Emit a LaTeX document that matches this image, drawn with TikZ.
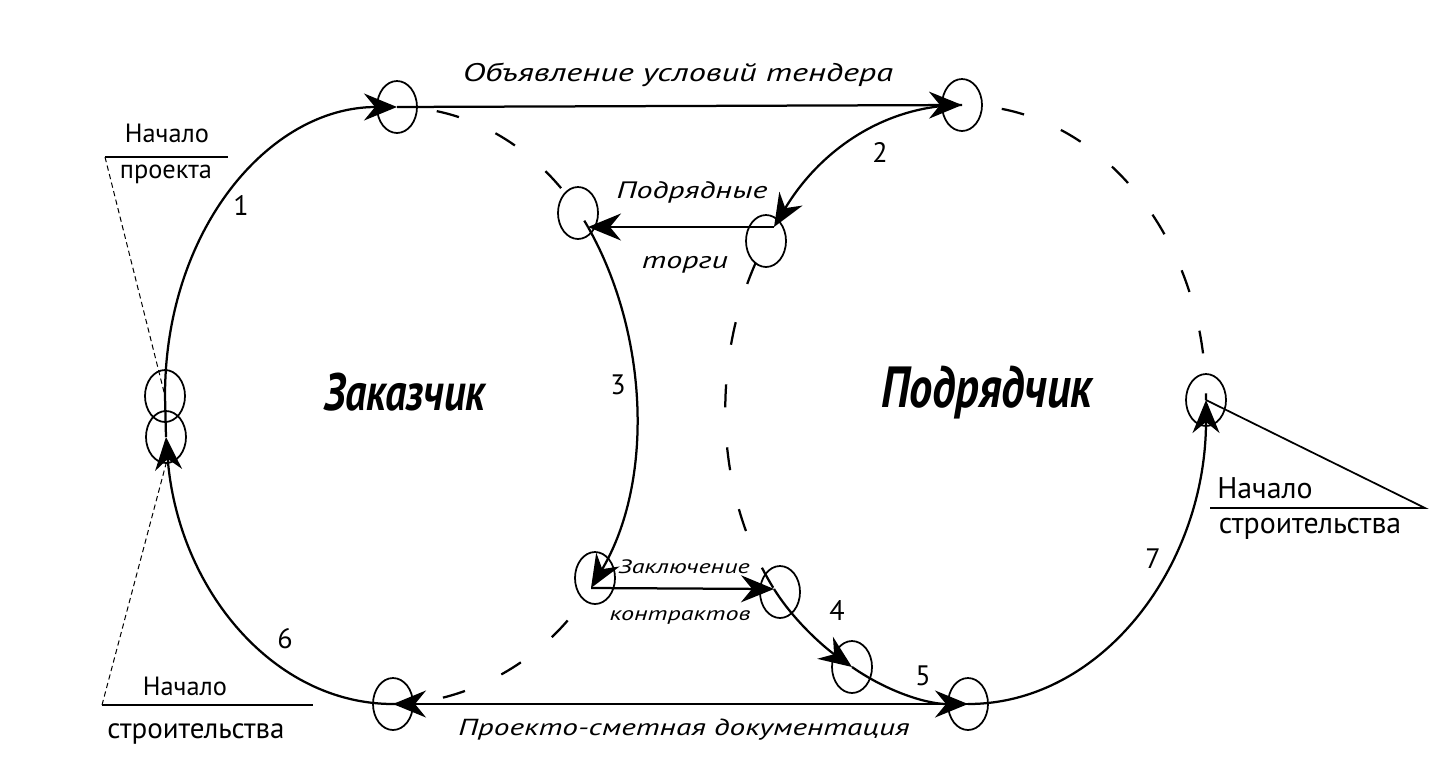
\documentclass[tikz,border=0pt]{standalone}
\usepackage{fontspec}
\setmainfont{PT Sans}
\newfontfamily\widefont{PT Sans}[FakeStretch=1.35]
\newfontfamily\narrowfont{PT Sans}[FakeStretch=0.8]
\usetikzlibrary{shapes.geometric,arrows.meta}
\begin{document}
\begin{tikzpicture}[x=0.2mm,y=-0.2mm,>={Stealth[length=6.6mm,width=5.4mm,inset=2.2mm]},
        ring/.style={draw, ellipse, minimum width=8mm, minimum height=10.4mm, inner sep=0pt, line width=0.35mm},
        flow/.style={->, line width=0.45mm},
        bound/.style={line width=0.45mm, dash pattern=on 4.6mm off 8mm, dash phase=4.6mm},
        leader/.style={line width=0.2mm, densely dashed},
        rule/.style={line width=0.35mm},
        lbl/.style={font=\widefont\itshape\fontsize{13.5}{15}\selectfont, inner sep=0pt, anchor=base},
        lblsmall/.style={font=\widefont\itshape\fontsize{11}{13}\selectfont, inner sep=0pt, anchor=base},
        party/.style={font=\narrowfont\bfseries\itshape\fontsize{30}{32}\selectfont, inner sep=0pt, anchor=base},
        note/.style={font=\fontsize{15}{17}\selectfont, inner sep=0pt, anchor=base},
        num/.style={font=\fontsize{16}{18}\selectfont, inner sep=0pt, anchor=base}]
        \useasboundingbox (0,0) rectangle (1434,780);

        % event circles
        \node (a) [ring] at (397,107) {};
        \node (b) [ring] at (962,105) {};
        \node (c) [ring] at (578,213) {};
        \node (d) [ring] at (766,241) {};
        \node (e1) [ring] at (165,396) {};
        \node (e2) [ring] at (166,437) {};
        \node (f) [ring] at (595,578) {};
        \node (g) [ring] at (780,592) {};
        \node (h) [ring] at (852,667) {};
        \node (i) [ring] at (968,704) {};
        \node (j) [ring] at (393,704) {};
        \node (k) [ring] at (1206,400) {};
        \coordinate (cj) at ([shift={(10,14)}]c.center);
        \coordinate (dj) at ([shift={(8,-14)}]d.center);
        \coordinate (fj) at ([shift={(-4,10)}]f.center);
        \coordinate (gj) at ([shift={(-6,-3)}]g.center);

        % flows
        \draw[flow] (e2.center) -- (e1.center) .. controls +(0,-166) and +(-128,0) .. (a.center);
        \draw[flow] (a.center) -- (b.center);
        \draw[flow] (b.center) .. controls +(-77,0) and +(46,-77) .. (dj);
        \draw[flow] (dj) -- (cj);
        \draw[flow] (cj) .. controls +(61,108) and +(63,-106) .. (fj);
        \draw[flow] (fj) -- (gj);
        \draw[flow] (gj) .. controls +(20,32) and +(-28,-20) .. (h.center);
        \draw[flow] (h.center) .. controls +(36,25) and +(-41,0) .. (i.center);
        \draw[flow] (i.center) -- (j.center);
        \draw[flow] (j.center) .. controls +(-119,0) and +(12,153) .. (e2.center);
        \draw[flow] (i.center) .. controls +(134,0) and +(0,166) .. (k.center);

        % dashed borders of the two parties
        \draw[bound] (a.center) .. controls +(74,0) and +(-44,-77) .. (cj);
        \draw[bound] (fj) .. controls +(-44,74) and +(72,0) .. (j.center);
        \draw[bound] (b.center) .. controls +(134,0) and +(0,-166) .. (k.center);
        \draw[bound] (dj) .. controls +(-64,108) and +(-66,-106) .. (gj);

        % start marks
        \coordinate (npl) at (105,157);
        \draw[leader] (npl) -- (e1.center);
        \draw[rule] (npl) -- ++(123,0);
        \coordinate (nsl) at (102,705);
        \draw[leader] (nsl) -- (e2.south);
        \draw[rule] (nsl) -- ++(211,0);
        \coordinate (nsr) at (1425,508);
        \draw[rule] (k.center) -- (nsr) -- ++(-215,0);

        % texts
        \node (tender) [lbl, font=\widefont\itshape\fontsize{14.5}{16}\selectfont] at (678,81) {Объявление условий тендера};
        \node (torg1) [lbl] at (692,198) {Подрядные};
        \node (torg2) [lbl] at (685,268) {торги};
        \node (kontr1) [lblsmall] at (684,573) {Заключение};
        \node (kontr2) [lblsmall] at (680,620) {контрактов};
        \node (psd) [lbl, font=\widefont\itshape\fontsize{13.2}{15}\selectfont] at (684,735) {Проекто-сметная документация};
        \node (zak) [party] at (405,410) {Заказчик};
        \node (podr) [party, font=\narrowfont\bfseries\itshape\fontsize{33}{35}\selectfont] at (987,407) {Подрядчик};
        \node (np1) [note] at (167,142) {Начало};
        \node (np2) [note] at (166,178) {проекта};
        \node (ns1) [note] at (185,695) {Начало};
        \node (ns2) [note, font=\fontsize{16.5}{18}\selectfont] at (196,738) {строительства};
        \node (ns3) [note, font=\fontsize{17}{19}\selectfont] at (1265,498) {Начало};
        \node (ns4) [note, font=\fontsize{17}{19}\selectfont] at (1310,533) {строительства};
        \node (n1) [num] at (241,215) {1};
        \node (n2) [num] at (880,162) {2};
        \node (n3) [num] at (618,394) {3};
        \node (n4) [num] at (837,620) {4};
        \node (n5) [num] at (923,685) {5};
        \node (n6) [num] at (285,648) {6};
        \node (n7) [num] at (1153,568) {7};
\end{tikzpicture}
\end{document}
